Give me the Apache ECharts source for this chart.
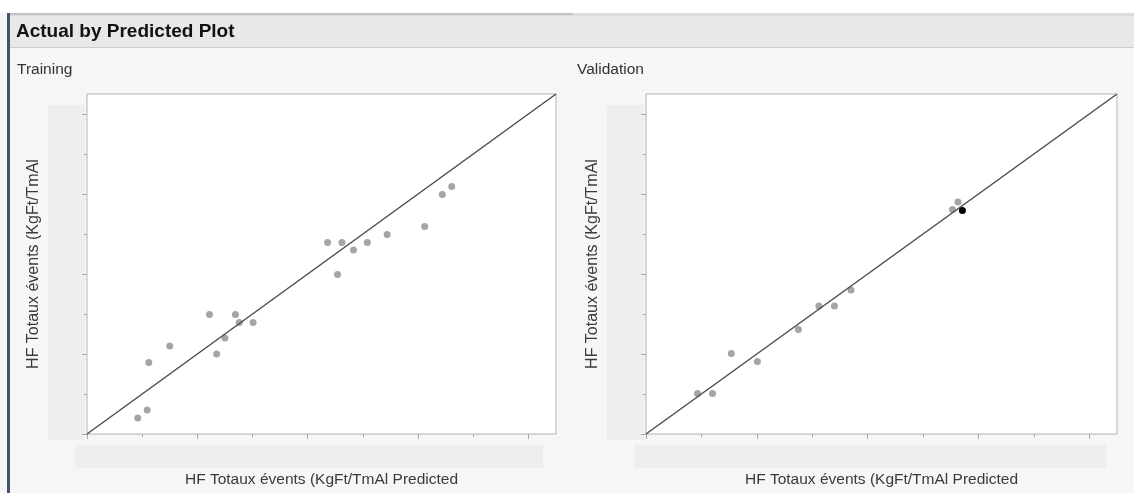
<!DOCTYPE html>
<html><head><meta charset="utf-8">
<script src="https://cdn.jsdelivr.net/npm/echarts@6/dist/echarts.min.js"></script>
<style>html,body{margin:0;padding:0;background:#fff}#c{width:1134px;height:493px}</style>
</head><body><div id="c"></div>
<script>
// Training set (predicted vs actual, in axis tick units; the original has no tick labels)
const trainPredicted = [0.92, 1.09, 1.12, 1.50, 2.22, 2.35, 2.50, 2.69, 2.76, 3.01, 4.36, 4.54, 4.62, 4.83, 5.08, 5.44, 6.12, 6.44, 6.61];
const trainActual    = [0.40, 0.60, 1.79, 2.20, 2.99, 2.00, 2.40, 2.99, 2.79, 2.79, 4.79, 3.99, 4.79, 4.60, 4.79, 4.99, 5.19, 5.99, 6.19];
// Validation set
const validPredicted = [0.93, 1.20, 1.54, 2.01, 2.75, 3.12, 3.40, 3.70, 5.53, 5.63];
const validActual    = [1.01, 1.01, 2.01, 1.81, 2.61, 3.20, 3.20, 3.60, 5.61, 5.80];
// Highlighted (selected) validation point
const selPredicted = [5.71];
const selActual    = [5.59];
const majorTicks = [0, 2, 4, 6, 8];
const minorTicks = [1, 3, 5, 7];
const axisMin = 0;
const axisMax = 8.5;
const xTitle = 'HF Totaux évents (KgFt/TmAl Predicted';
const yTitle = 'HF Totaux évents (KgFt/TmAl';

const zip = (a, b) => a.map((v, i) => [v, b[i]]);
const font = 'Liberation Sans, Arial, sans-serif';
const tickColor = '#a9a9a9';

function axis(dim, g, ticks, len, name) {
  const a = {
    type: 'value', gridIndex: g, min: axisMin, max: axisMax,
    axisLine: { show: false }, splitLine: { show: false }, axisLabel: { show: false },
    axisTick: { show: true, customValues: ticks, length: len, lineStyle: { color: tickColor, width: 1 } },
    offset: 1
  };
  a.position = dim === 'x' ? 'bottom' : 'left';
  if (name) {
    a.name = name; a.nameLocation = 'middle';
    a.nameTextStyle = { fontFamily: font, fontSize: dim === 'x' ? 15.5 : 16, color: '#3a3a3a' };
    a.nameGap = dim === 'x' ? 37 : 44;
  }
  return a;
}

const grids = [
  { left: 87, top: 94, width: 469, height: 342 },
  { left: 646, top: 94, width: 471, height: 343 }
];

const option = {
  backgroundColor: '#f6f6f6',
  animation: false,
  title: [
    { text: 'Actual by Predicted Plot', left: 16, top: 22, padding: 0, textStyle: { fontFamily: font, fontWeight: 'bold', fontSize: 19, color: '#111' } },
    { text: 'Training', left: 17, top: 62, padding: 0, textStyle: { fontFamily: font, fontWeight: 'normal', fontSize: 15.5, color: '#333' } },
    { text: 'Validation', left: 577, top: 62, padding: 0, textStyle: { fontFamily: font, fontWeight: 'normal', fontSize: 15.5, color: '#333' } }
  ],
  graphic: [
    { type: 'rect', z: -10, shape: { x: 0, y: 0, width: 1134, height: 13 }, style: { fill: '#ffffff' } },
    { type: 'rect', z: -10, shape: { x: 10, y: 13, width: 1124, height: 3 }, style: { fill: '#dcdcdc' } },
    { type: 'rect', z: -10, shape: { x: 10, y: 13, width: 563, height: 2 }, style: { fill: '#c4c4c4' } },
    { type: 'rect', z: -10, shape: { x: 10, y: 16, width: 1124, height: 31 }, style: { fill: '#e8e8e8' } },
    { type: 'rect', z: -10, shape: { x: 10, y: 47, width: 1124, height: 1 }, style: { fill: '#cdcdcd' } },
    { type: 'rect', z: -10, shape: { x: 7, y: 13, width: 3, height: 480 }, style: { fill: '#44526f' } },
    // bands behind axis titles
    { type: 'rect', z: -10, shape: { x: 48, y: 105, width: 37, height: 335 }, style: { fill: '#eeeeee' } },
    { type: 'rect', z: -10, shape: { x: 75, y: 445, width: 468, height: 23 }, style: { fill: '#eeeeee' } },
    { type: 'rect', z: -10, shape: { x: 607, y: 105, width: 37, height: 335 }, style: { fill: '#eeeeee' } },
    { type: 'rect', z: -10, shape: { x: 634, y: 445, width: 472, height: 23 }, style: { fill: '#eeeeee' } }
  ],
  grid: grids.map(g => Object.assign({ show: true, backgroundColor: '#ffffff', borderColor: '#b3b3b3', borderWidth: 1 }, g)),
  xAxis: [
    axis('x', 0, majorTicks, 5, xTitle), axis('x', 0, minorTicks, 3),
    axis('x', 1, majorTicks, 5, xTitle), axis('x', 1, minorTicks, 3)
  ],
  yAxis: [
    axis('y', 0, majorTicks, 5, yTitle), axis('y', 0, minorTicks, 3),
    axis('y', 1, majorTicks, 5, yTitle), axis('y', 1, minorTicks, 3)
  ],
  series: [
    { type: 'line', xAxisIndex: 0, yAxisIndex: 0, data: [[axisMin, axisMin], [axisMax, axisMax]], showSymbol: false, symbol: 'none', lineStyle: { color: '#4d4d4d', width: 1.5 }, z: 3 },
    { type: 'scatter', xAxisIndex: 0, yAxisIndex: 0, data: zip(trainPredicted, trainActual), symbolSize: 7, itemStyle: { color: '#a5a5a5', opacity: 1 }, z: 2 },
    { type: 'line', xAxisIndex: 2, yAxisIndex: 2, data: [[axisMin, axisMin], [axisMax, axisMax]], showSymbol: false, symbol: 'none', lineStyle: { color: '#4d4d4d', width: 1.5 }, z: 3 },
    { type: 'scatter', xAxisIndex: 2, yAxisIndex: 2, data: zip(validPredicted, validActual), symbolSize: 7, itemStyle: { color: '#a5a5a5', opacity: 1 }, z: 2 },
    { type: 'scatter', xAxisIndex: 2, yAxisIndex: 2, data: zip(selPredicted, selActual), symbolSize: 7, itemStyle: { color: '#000', opacity: 1 }, z: 4 }
  ]
};
const chart = echarts.init(document.getElementById('c'), null, { renderer: 'canvas' });
chart.setOption(option);
</script></body></html>
